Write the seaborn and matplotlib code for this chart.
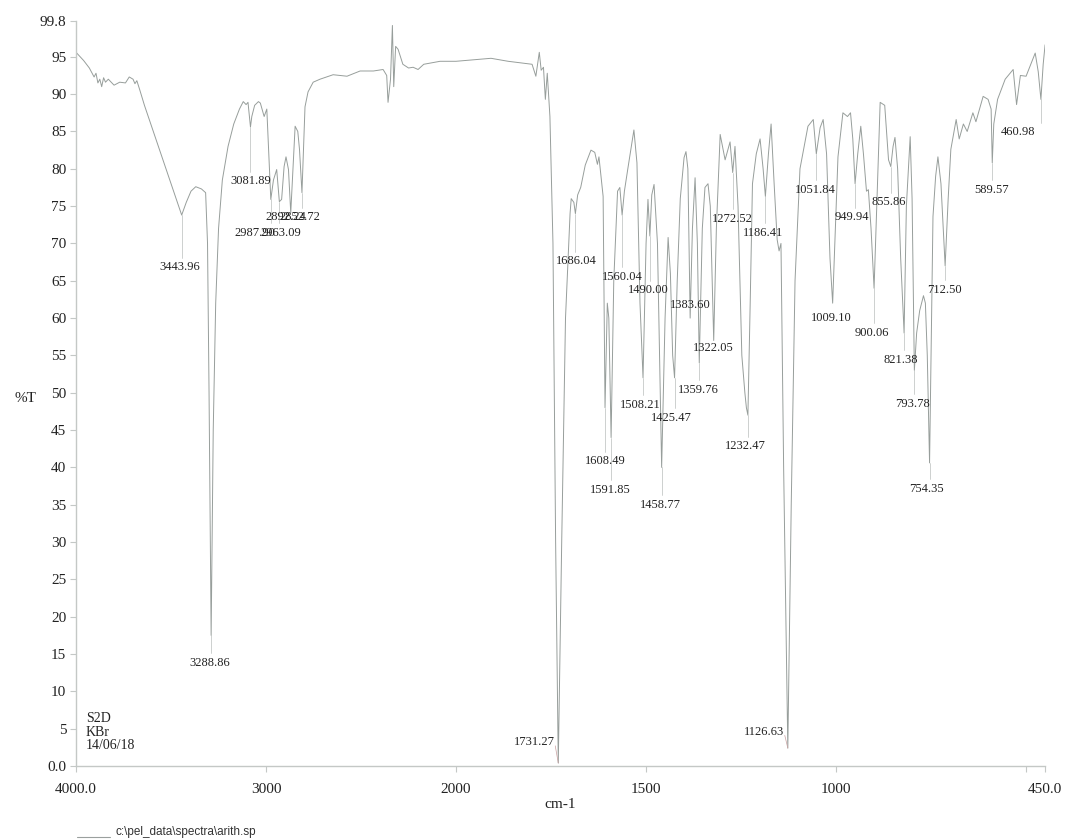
"""IR spectrum (%T vs cm-1) of sample S2D in KBr, redrawn with seaborn."""

import matplotlib

matplotlib.use("Agg")

import matplotlib.pyplot as plt
import numpy as np
import seaborn as sns
from matplotlib.lines import Line2D

# Spectrum vertices (wavenumber descending, %T)
WAVENUMBER = [
    4000, 3960, 3930, 3905, 3895, 3885, 3875, 3865, 3855, 3845, 3830, 3800,
    3770, 3740, 3720, 3700, 3690, 3680, 3665, 3640, 3600, 3560, 3520, 3480,
    3444, 3420, 3395, 3370, 3340, 3318, 3308, 3300, 3289, 3278, 3265, 3250,
    3230, 3200, 3170, 3140, 3120, 3105, 3095, 3082, 3075, 3060, 3040, 3030,
    3010, 2996, 2975, 2961, 2944, 2930, 2918, 2905, 2895, 2882, 2870, 2847,
    2833, 2824, 2811, 2795, 2779, 2752, 2716, 2647, 2574, 2505, 2435, 2384,
    2365, 2358, 2345, 2335, 2328, 2318, 2305, 2280, 2250, 2226, 2200, 2170,
    2084, 2000, 1908, 1863, 1800, 1790, 1781, 1776, 1770, 1765, 1760, 1753,
    1745, 1738, 1731, 1722, 1712, 1700, 1697, 1690, 1686, 1680, 1672, 1660,
    1645, 1635, 1628, 1624, 1613, 1608, 1602, 1598, 1592, 1585, 1575, 1569,
    1563, 1557, 1548, 1532, 1528, 1524, 1516, 1508, 1500, 1495, 1490, 1485,
    1479, 1470, 1459, 1450, 1442, 1436, 1430, 1425, 1418, 1410, 1400, 1395,
    1390, 1384, 1378, 1371, 1365, 1360, 1352, 1345, 1337, 1331, 1322, 1315,
    1305, 1292, 1279, 1272, 1266, 1258, 1248, 1240, 1236, 1232, 1226, 1220,
    1210, 1200, 1192, 1186, 1178, 1171, 1163, 1155, 1150, 1145, 1138, 1127,
    1118, 1108, 1095, 1074, 1060, 1052, 1042, 1034, 1025, 1016, 1009, 1002,
    995, 982, 970, 962, 956, 950, 943, 935, 928, 920, 915, 908,
    900, 893, 884, 872, 862, 856, 850, 845, 838, 830, 821, 815,
    805, 800, 794, 788, 780, 770, 765, 760, 754, 748, 745, 738,
    732, 724, 718, 713, 705, 698, 684, 676, 665, 655, 640, 632,
    613, 600, 592, 589, 585, 575, 555, 534, 525, 515, 500, 476,
    468, 461, 455, 450,
]
TRANSMITTANCE = [
    95.6, 94.5, 93.5, 92.3, 92.8, 91.5, 92.0, 91.0, 92.2, 91.6, 92.0, 91.2,
    91.6, 91.5, 92.3, 92.0, 91.4, 91.8, 90.6, 88.5, 85.5, 82.5, 79.5, 76.5,
    73.8, 75.5, 77.0, 77.6, 77.3, 76.8, 70.0, 50.0, 17.5, 45.0, 62.0, 72.0,
    78.5, 83.0, 86.0, 88.0, 89.0, 88.6, 88.9, 85.6, 87.0, 88.5, 89.0, 88.8,
    87.0, 88.0, 75.9, 78.5, 79.9, 75.6, 75.9, 80.3, 81.6, 79.9, 74.1, 85.7,
    85.0, 82.6, 76.8, 88.3, 90.3, 91.6, 92.0, 92.6, 92.4, 93.1, 93.1, 93.3,
    92.5, 88.9, 92.0, 99.2, 91.0, 96.4, 96.0, 94.0, 93.5, 93.6, 93.3, 94.0,
    94.4, 94.4, 94.8, 94.4, 94.0, 92.4, 95.6, 93.2, 93.6, 89.3, 92.8, 87.0,
    70.0, 30.0, 0.4, 30.0, 60.0, 74.0, 76.0, 75.5, 74.0, 76.5, 77.5, 80.5,
    82.5, 82.2, 80.6, 81.6, 76.3, 48.0, 62.0, 60.0, 44.0, 65.0, 77.0, 77.5,
    73.8, 77.0, 80.0, 85.2, 83.0, 80.8, 62.0, 52.0, 70.0, 75.9, 71.0, 76.5,
    77.9, 70.0, 40.0, 60.0, 70.8, 66.0, 55.0, 52.0, 65.0, 76.0, 81.5, 82.3,
    80.0, 60.0, 72.0, 78.8, 70.0, 54.0, 72.0, 77.5, 78.0, 75.0, 57.0, 72.0,
    84.6, 81.2, 83.6, 79.5, 83.0, 75.0, 55.0, 50.0, 48.0, 47.0, 62.0, 78.0,
    82.0, 84.0, 80.0, 76.3, 82.0, 86.0, 78.0, 70.5, 69.0, 70.0, 40.0, 2.4,
    35.0, 65.0, 80.0, 85.7, 86.6, 82.0, 85.5, 86.6, 82.0, 68.0, 62.0, 72.0,
    81.6, 87.5, 87.0, 87.5, 84.0, 78.0, 82.0, 85.7, 82.0, 77.0, 77.2, 72.0,
    64.0, 75.0, 88.9, 88.5, 81.2, 80.3, 83.0, 84.2, 80.0, 68.0, 58.0, 75.0,
    84.3, 76.0, 53.0, 58.0, 61.0, 63.0, 62.0, 55.0, 40.6, 62.0, 73.6, 79.0,
    81.6, 78.0, 72.0, 67.0, 76.0, 82.6, 86.6, 84.0, 86.0, 85.0, 87.5, 86.3,
    89.7, 89.3, 88.0, 80.8, 86.0, 89.3, 92.0, 93.3, 88.6, 92.5, 92.4, 95.5,
    93.0, 89.3, 94.0, 96.6,
]

# Peak picks: printed label, position of the band tip, position of the label
PEAK_LABELS = [
    "3443.96", "3288.86", "3081.89", "2987.90", "2963.09", "2892.24", "2852.72",
    "1731.27", "1686.04", "1608.49", "1591.85", "1560.04", "1508.21", "1490.00",
    "1458.77", "1425.47", "1383.60", "1359.76", "1322.05", "1272.52", "1232.47",
    "1186.41", "1126.63", "1051.84", "1009.10", "949.94", "900.06", "855.86",
    "821.38", "793.78", "754.35", "712.50", "589.57", "460.98",
]
PEAK_WN = [
    3444, 3289, 3082, 2975, 2930, 2870, 2811,
    1731, 1686, 1608, 1592, 1563, 1508, 1490,
    1459, 1425, 1384, 1360, 1322, 1272, 1232,
    1186, 1127, 1052, 1009, 950, 900, 856,
    821, 794, 754, 713, 589, 461,
]
LABEL_WN = [
    3453, 3295, 3079, 3060, 2921, 2897, 2821,
    1782, 1684, 1608, 1595, 1563, 1516, 1495,
    1463, 1434, 1384, 1363, 1324, 1272, 1239,
    1192, 1187, 1055, 1013, 958, 905, 861,
    829, 800, 763, 716, 592, 521,
]
LABEL_T = [
    66.8, 13.8, 78.3, 71.4, 71.4, 73.5, 73.5,
    3.2, 67.6, 40.8, 37.0, 65.5, 48.4, 63.7,
    35.0, 46.6, 61.8, 50.4, 56.0, 73.3, 42.8,
    71.4, 4.6, 77.2, 60.0, 73.5, 58.0, 75.5,
    54.4, 48.5, 37.1, 63.8, 77.2, 84.9,
]
SIDE_LABELS = ["1731.27", "1126.63"]

X_TICKS = [4000, 3000, 2000, 1500, 1000, 500, 450]
X_TICK_LABELS = ["4000.0", "3000", "2000", "1500", "1000", "", "450.0"]
Y_TICKS = [0, 5, 10, 15, 20, 25, 30, 35, 40, 45, 50, 55, 60, 65, 70, 75, 80, 85, 90, 95, 99.8]
Y_TICK_LABELS = ["0.0"] + [str(v) for v in Y_TICKS[1:-1]] + ["99.8"]

SERIF = "Liberation Serif"
LINE_COLOR = "#979e9b"
AXIS_COLOR = "#c4c8c6"


def forward(w):
    # range below 2000 cm-1 is drawn at twice the scale of the range above
    w = np.asarray(w, dtype=float)
    return np.where(w >= 2000, w, 2 * w - 2000)


def inverse(v):
    v = np.asarray(v, dtype=float)
    return np.where(v >= 2000, v, (v + 2000) / 2)


sns.set_theme(style="ticks")
plt.rcParams["font.family"] = [SERIF, "DejaVu Serif"]

fig = plt.figure(figsize=(10.65, 8.39), dpi=100)
ax = fig.add_axes([0.0714, 0.087, 0.9099, 0.888])

sns.lineplot(
    x=WAVENUMBER,
    y=TRANSMITTANCE,
    estimator=None,
    sort=False,
    color=LINE_COLOR,
    linewidth=0.7,
    ax=ax,
)
ax.set_xscale("function", functions=(forward, inverse))
ax.set_xlim(4000, 450)
ax.set_ylim(0, 99.8)

# peak labels with faint leader lines
tip_t = np.interp(PEAK_WN, WAVENUMBER[::-1], TRANSMITTANCE[::-1])
for label, pw, tt, lw, lt in zip(PEAK_LABELS, PEAK_WN, tip_t, LABEL_WN, LABEL_T):
    if label in SIDE_LABELS:
        ax.plot([pw + 8, pw], [lt - 0.5, tt], color="#c9a0a0", linewidth=0.5)
        ax.text(pw + 10, lt, label, ha="right", va="center", fontsize=9, color="#222222")
        continue
    if lt < tt - 2.5:
        ax.plot([pw, pw], [tt, lt + 1.3], color="#b9bebc", linewidth=0.5)
    ax.text(lw, lt, label, ha="center", va="center", fontsize=9, color="#222222")

ax.set_xticks(X_TICKS)
ax.set_xticklabels(X_TICK_LABELS)
ax.set_yticks(Y_TICKS)
ax.set_yticklabels(Y_TICK_LABELS)
ax.minorticks_off()
ax.tick_params(axis="both", labelsize=11, colors=AXIS_COLOR, labelcolor="#222222",
               length=4, width=0.8)
ax.tick_params(axis="x", pad=8)
ax.tick_params(axis="y", pad=3)

sns.despine(ax=ax)
for side in ("left", "bottom"):
    ax.spines[side].set_color(AXIS_COLOR)
    ax.spines[side].set_linewidth(1.0)

ax.set_xlabel("cm-1", fontsize=11, color="#222222", labelpad=2)
ax.set_ylabel("%T", fontsize=11, color="#222222", rotation=0, labelpad=14)
ax.yaxis.set_label_coords(-0.052, 0.485)

ax.text(0.01, 0.072, "S2D\nKBr\n14/06/18", transform=ax.transAxes, ha="left", va="top",
        fontsize=10, linespacing=1.05, color="#222222")

# file-name caption with a short line sample
fig.add_artist(Line2D([0.072, 0.103], [0.002, 0.002], color="#9aa09e", linewidth=0.8))
fig.text(0.108, 0.008, r"c:\pel_data\spectra\arith.sp", fontsize=8.5,
         family=["Liberation Sans", "DejaVu Sans"], color="#333333", ha="left", va="center")

fig.savefig("out.png", dpi=100, facecolor="white")
plt.close(fig)
